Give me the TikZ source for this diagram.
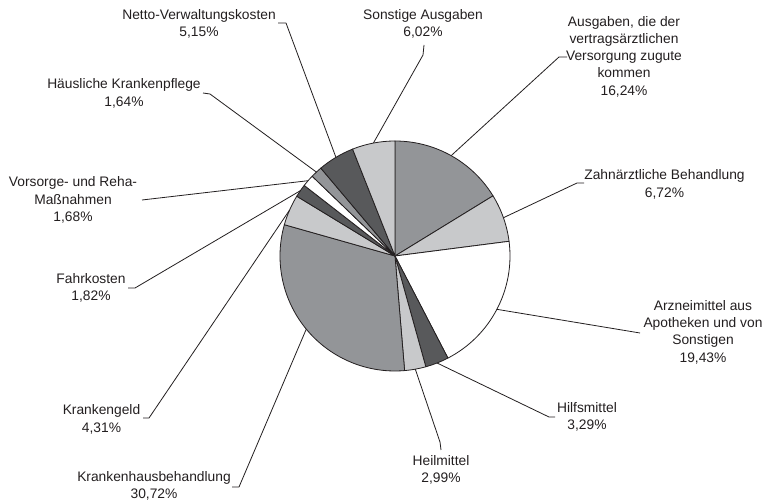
\documentclass[tikz,border=0pt]{standalone}
\usepackage{fontspec}
\setmainfont{Liberation Sans}
\definecolor{gmid}{RGB}{147,149,152}
\definecolor{glight}{RGB}{200,201,203}
\definecolor{gdark}{RGB}{88,89,91}
\definecolor{txt}{RGB}{35,31,32}
\begin{document}
\begin{tikzpicture}[x=1pt,y=1pt,
  lbl/.style={align=center,inner sep=0pt,text=txt,font=\fontsize{13.8}{17.3}\selectfont},
  slice/.style={draw=txt,line width=0.8pt,line join=round},
  leader/.style={draw=txt,line width=0.8pt,line join=round}]
\path[use as bounding box,fill=white] (0,0) rectangle (764,-502);
\coordinate (O) at (395,-256);
% slices
\foreach \a/\b/\c in {90/31.54/gmid, 31.54/7.34/glight, 7.34/-62.60/white, -62.60/-74.45/gdark, -74.45/-85.21/glight, -85.21/-195.80/gmid, -195.80/-211.32/glight, -211.32/-217.87/gdark, -217.87/-223.92/white, -223.92/-229.82/gmid, -229.82/-248.36/gdark, -248.36/-270/glight}
  \filldraw[slice,fill=\c] (O) -- ++(\a:115) arc[start angle=\a, end angle=\b, radius=115] -- cycle;
% edge points
\path (O) ++(60.77:115) coordinate (e-ausg);
\path (O) ++(19.44:115) coordinate (e-zahn);
\path (O) ++(-27.63:115) coordinate (e-arz);
\path (O) ++(-68.53:115) coordinate (e-hilf);
\path (O) ++(-79.83:115) coordinate (e-heil);
\path (O) ++(-140.5:115) coordinate (e-khaus);
\path (O) ++(-203.56:115) coordinate (e-kgeld);
\path (O) ++(-214.6:115) coordinate (e-fahr);
\path (O) ++(-220.9:115) coordinate (e-vors);
\path (O) ++(-226.87:115) coordinate (e-haeus);
\path (O) ++(-239.09:115) coordinate (e-netto);
\path (O) ++(-259.18:115) coordinate (e-sonst);
% labels
\node[lbl] (netto) at (199,-24) {Netto-Verwaltungskosten\\5,15\%};
\node[lbl] (sonst) at (423,-24) {Sonstige Ausgaben\\6,02\%};
\node[lbl] (ausg) at (624,-56.5) {Ausgaben, die der\\vertragsärztlichen\\Versorgung zugute\\kommen\\16,24\%};
\node[lbl] (zahn) at (664.5,-184.5) {Zahnärztliche Behandlung\\6,72\%};
\node[lbl] (arz) at (703,-332) {Arzneimittel aus\\Apotheken und von\\Sonstigen\\19,43\%};
\node[lbl] (hilf) at (587,-417) {Hilfsmittel\\3,29\%};
\node[lbl] (heil) at (441,-470) {Heilmittel\\2,99\%};
\node[lbl] (khaus) at (154,-486) {Krankenhausbehandlung\\30,72\%};
\node[lbl] (kgeld) at (101.5,-419.5) {Krankengeld\\4,31\%};
\node[lbl] (fahr) at (91,-288) {Fahrkosten\\1,82\%};
\node[lbl] (vors) at (73,-200) {Vorsorge- und Reha-\\Maßnahmen\\1,68\%};
\node[lbl] (haeus) at (124,-93.5) {Häusliche Krankenpflege\\1,64\%};
% leader elbows
\coordinate (s-netto) at (278,-23); \coordinate (k-netto) at (286,-23);
\coordinate (s-sonst) at (424,-45); \coordinate (k-sonst) at (423,-55);
\coordinate (s-ausg) at (567,-57); \coordinate (k-ausg) at (559,-57);
\coordinate (s-zahn) at (584,-183); \coordinate (k-zahn) at (577,-183);
\coordinate (s-arz) at (640,-333); \coordinate (k-arz) at (634,-332);
\coordinate (s-hilf) at (555,-417); \coordinate (k-hilf) at (549,-417);
\coordinate (s-heil) at (441,-450); \coordinate (k-heil) at (440,-442);
\coordinate (s-khaus) at (232,-487); \coordinate (k-khaus) at (239,-487);
\coordinate (s-kgeld) at (143,-418); \coordinate (k-kgeld) at (149,-418);
\coordinate (s-fahr) at (128,-288); \coordinate (k-fahr) at (135,-288);
\coordinate (s-vors) at (142,-200);
\coordinate (s-haeus) at (203,-93); \coordinate (k-haeus) at (210,-94);
% leaders
\draw[leader] (s-netto) -- (k-netto) -- (e-netto);
\draw[leader] (s-sonst) -- (k-sonst) -- (e-sonst);
\draw[leader] (s-ausg) -- (k-ausg) -- (e-ausg);
\draw[leader] (s-zahn) -- (k-zahn) -- (e-zahn);
\draw[leader] (s-arz) -- (k-arz) -- (e-arz);
\draw[leader] (s-hilf) -- (k-hilf) -- (e-hilf);
\draw[leader] (s-heil) -- (k-heil) -- (e-heil);
\draw[leader] (s-khaus) -- (k-khaus) -- (e-khaus);
\draw[leader] (s-kgeld) -- (k-kgeld) -- (e-kgeld);
\draw[leader] (s-fahr) -- (k-fahr) -- (e-fahr);
\draw[leader] (s-vors) -- (e-vors);
\draw[leader] (s-haeus) -- (k-haeus) -- (e-haeus);
\end{tikzpicture}
\end{document}
